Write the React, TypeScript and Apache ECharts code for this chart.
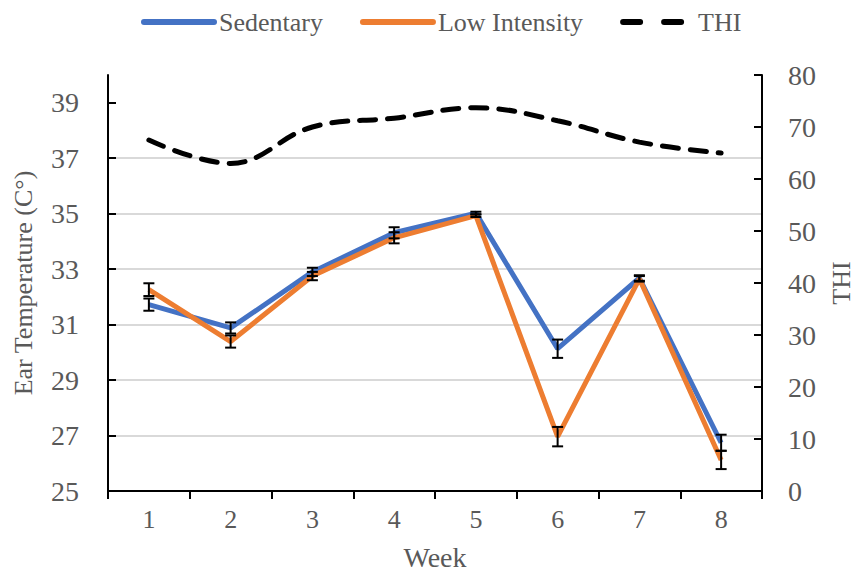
import React, { useEffect, useRef } from "react";
import * as echarts from "echarts";

// Weekly ear temperature (°C) with standard errors, and temperature-humidity index
const weeks = ["1", "2", "3", "4", "5", "6", "7", "8"];
const sedentary = [31.72, 30.88, 32.9, 34.31, 35.02, 30.13, 32.68, 26.74];
const sedentaryErr = [0.22, 0.2, 0.15, 0.2, 0.05, 0.33, 0.1, 0.29];
const lowIntensity = [32.26, 30.39, 32.75, 34.13, 34.93, 26.96, 32.65, 26.12];
const lowIntensityErr = [0.23, 0.22, 0.15, 0.2, 0.05, 0.35, 0.1, 0.33];
const thi = [67.5, 63.0, 70.0, 71.7, 73.7, 71.2, 67.1, 65.0];

// Left axis: 25 to 40 °C with labels every 2 degrees starting at 25
const tempBase = 25;
const tempTop = 40;
const tempStep = 2;

const FONT = "Liberation Serif";
const TEXT = "#595959";
const BLUE = "#4472C4";
const ORANGE = "#ED7D31";

function errorRenderer(params: any, api: any) {
  const x = api.value(0);
  const lo = api.coord([x, api.value(1)]);
  const hi = api.coord([x, api.value(2)]);
  const half = 5.5;
  const style = { stroke: "#000", lineWidth: 2 };
  return {
    type: "group",
    children: [
      { type: "line", shape: { x1: lo[0], y1: lo[1], x2: hi[0], y2: hi[1] }, style },
      { type: "line", shape: { x1: lo[0] - half, y1: lo[1], x2: lo[0] + half, y2: lo[1] }, style },
      { type: "line", shape: { x1: hi[0] - half, y1: hi[1], x2: hi[0] + half, y2: hi[1] }, style },
    ],
  };
}

export default function App() {
  const ref = useRef<HTMLDivElement>(null);

  useEffect(() => {
    if (!ref.current) return;
    const chart = echarts.init(ref.current, null, { renderer: "svg" });

    const shift = (v: number) => +(v - tempBase).toFixed(3);
    const tickVals: number[] = [];
    for (let v = 0; v < tempTop - tempBase; v += tempStep) tickVals.push(v);

    const errData = (vals: number[], errs: number[]) =>
      vals.map((v, i) => [i, shift(v - errs[i]), shift(v + errs[i])]);

    chart.setOption({
      animation: false,
      backgroundColor: "#fff",
      textStyle: { fontFamily: FONT },
      legend: {
        top: 4,
        left: 136,
        data: [
          { name: "Sedentary" },
          { name: "Low Intensity" },
          { name: "THI", lineStyle: { type: [17, 24] } },
        ],
        itemWidth: 70,
        itemHeight: 14,
        itemGap: 37,
        itemStyle: { opacity: 0 },
        lineStyle: { width: 6, cap: "round" },
        textStyle: { fontFamily: FONT, fontSize: 26, color: TEXT },
      },
      grid: { left: 108, right: 96, top: 75, bottom: 84, outerBoundsMode: "none", containLabel: false },
      xAxis: {
        type: "category",
        data: weeks,
        boundaryGap: true,
        name: "Week",
        nameLocation: "middle",
        nameGap: 52,
        nameTextStyle: { fontFamily: FONT, fontSize: 28, color: TEXT },
        axisLine: { lineStyle: { color: "#000", width: 2 } },
        axisTick: { show: true, inside: false, length: 8, lineStyle: { color: "#000", width: 2 } },
        axisLabel: { fontFamily: FONT, fontSize: 26, color: TEXT, margin: 15 },
        splitLine: { show: false },
      },
      yAxis: [
        {
          type: "value",
          min: 0,
          max: tempTop - tempBase,
          interval: tempStep,
          name: "Ear Temperature (C°)",
          nameLocation: "middle",
          nameGap: 72,
          nameTextStyle: { fontFamily: FONT, fontSize: 26, color: TEXT },
          axisLine: { show: true, lineStyle: { color: "#000", width: 2 } },
          axisTick: {
            show: true,
            inside: true,
            length: 8,
            customValues: tickVals,
            lineStyle: { color: "#000", width: 2 },
          },
          axisLabel: {
            fontFamily: FONT,
            fontSize: 28,
            color: TEXT,
            margin: 29,
            customValues: tickVals,
            formatter: (v: number) => String(v + tempBase),
          },
          splitLine: {
            show: true,
            showMinLine: false,
            showMaxLine: false,
            lineStyle: { color: "#d9d9d9", width: 2 },
          },
        },
        {
          type: "value",
          min: 0,
          max: 80,
          interval: 10,
          position: "right",
          name: "THI",
          nameLocation: "middle",
          nameRotate: 90,
          nameGap: 66,
          nameTextStyle: { fontFamily: FONT, fontSize: 26, color: TEXT },
          axisLine: { show: true, lineStyle: { color: "#000", width: 2 } },
          axisTick: { show: true, inside: true, length: 8, lineStyle: { color: "#000", width: 2 } },
          axisLabel: { fontFamily: FONT, fontSize: 28, color: TEXT, margin: 26 },
          splitLine: { show: false },
        },
      ],
      series: [
        {
          name: "THI",
          type: "line",
          yAxisIndex: 1,
          data: thi,
          smooth: 0.4,
          symbol: "none",
          lineStyle: { color: "#000", width: 5, type: [16, 12], cap: "round" },
          itemStyle: { color: "#000" },
          z: 2,
        },
        {
          name: "Sedentary",
          type: "line",
          yAxisIndex: 0,
          data: sedentary.map(shift),
          symbol: "none",
          lineStyle: { color: BLUE, width: 5 },
          itemStyle: { color: BLUE },
          z: 3,
        },
        {
          name: "Low Intensity",
          type: "line",
          yAxisIndex: 0,
          data: lowIntensity.map(shift),
          symbol: "none",
          lineStyle: { color: ORANGE, width: 5 },
          itemStyle: { color: ORANGE },
          z: 4,
        },
        {
          name: "Sedentary SE",
          type: "custom",
          yAxisIndex: 0,
          data: errData(sedentary, sedentaryErr),
          encode: { x: 0, y: [1, 2] },
          renderItem: errorRenderer,
          z: 5,
        },
        {
          name: "Low Intensity SE",
          type: "custom",
          yAxisIndex: 0,
          data: errData(lowIntensity, lowIntensityErr),
          encode: { x: 0, y: [1, 2] },
          renderItem: errorRenderer,
          z: 5,
        },
      ],
    });

    return () => chart.dispose();
  }, []);

  return (
    <div
      ref={ref}
      style={{ position: "fixed", left: 0, top: 0, width: 858, height: 575, background: "#fff" }}
    />
  );
}
